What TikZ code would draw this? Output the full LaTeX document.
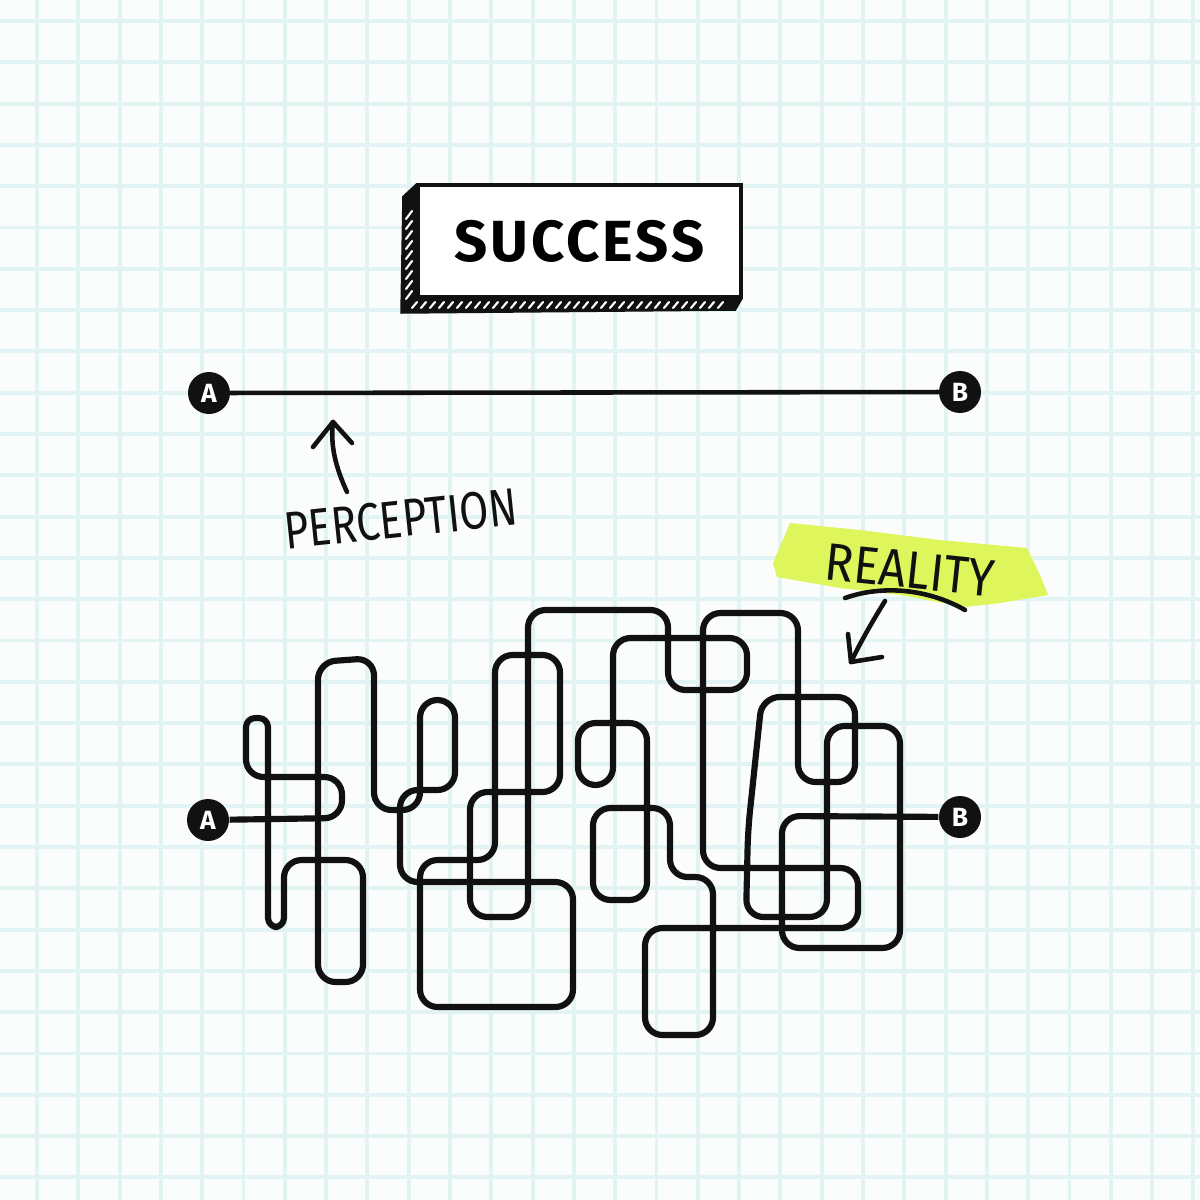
\documentclass[tikz,border=0pt]{standalone}
\usepackage{fontspec}
\newfontfamily\handfont{Fira Sans}
\newfontfamily\titlefont[LetterSpace=5]{Fira Sans}
\usetikzlibrary{calc}
\definecolor{ink}{HTML}{111111}
\definecolor{gridblue}{RGB}{226,243,244}
\definecolor{paper}{RGB}{251,253,253}
\definecolor{marker}{RGB}{222,245,92}
\tikzset{gridline/.style={gridblue,line width=1.1pt},
  endpt/.style={circle,fill=ink,text=white,minimum size=4.2mm,inner sep=0pt,font=\handfont\bfseries\fontsize{7.5}{7.5}\selectfont},
  tangle/.style={ink,line width=1.75pt,rounded corners=5pt,line join=round},
  handtext/.style={ink,inner sep=0pt,font=\handfont\fontsize{15}{15}\selectfont},
  pen/.style={ink,line width=1.3pt,line cap=round,line join=round},
  hatch/.style={white,line width=0.6pt,line cap=round}}

\begin{document}
\begin{tikzpicture}[x=0.1mm,y=-0.1mm]
\fill[paper] (0,0) rectangle (1200,1200);
\useasboundingbox (0,0) rectangle (1200,1200);
% grid paper
\foreach \i in {0,...,28} {
  \draw[gridline] ({37+41.3*\i},0) -- ({37+41.3*\i},1200);
  \draw[gridline] (0,{21+41.3*\i}) -- (1200,{21+41.3*\i});
}

% title box
\node[draw=ink,line width=1pt,fill=white,minimum width=32.3mm,minimum height=11.2mm,
  font=\titlefont\bfseries\fontsize{16.5}{16.5}\selectfont] (success) at (579.5,241) {SUCCESS};
\fill[ink] (success.north west) -- ($(success.north west)+(-14,13)$) -- ($(success.south west)+(-16,15)$)
  -- ($(success.south east)+(-7,12)$) -- (success.south east) -- (success.south west) -- cycle;
\foreach \x in {412,421,...,726} \draw[hatch] (\x,308) -- ++(5,-6);
\foreach \y in {212,222,...,292} \draw[hatch] (406,\y+7) -- ++(6,-8);

% perception
\node[endpt] (atop) at (209,393) {A};
\node[endpt] (btop) at (960,392) {B};
\draw[pen] (atop) -- (btop);
\node[handtext,rotate=6] (perc) at (401,519) {\scalebox{0.8}[1]{PERCEPTION}};
\coordinate (perctail) at (347,492);
\coordinate (perctip) at (333,422);
\draw[pen] (perctail) .. controls (336,468) and (330,446) .. (perctip);
\draw[pen] (313,447) -- (perctip) -- (352,443);

% reality
\fill[marker] (773,563) -- (790,523) -- (860,530) -- (940,540) -- (1027,548) -- (1040,575) -- (1048,595)
  -- (1000,603) -- (965,607) -- (900,595) -- (840,588) -- (777,577) -- cycle;
\node[handtext,rotate=-6] (real) at (910,570) {\scalebox{0.9}[1]{REALITY}};
\draw[pen] (845,598) .. controls (885,584) and (930,590) .. (965,610);
\coordinate (realtail) at (885,601);
\coordinate (realtip) at (851,662);
\draw[pen] (realtail) .. controls (872,622) and (860,643) .. (realtip);
\draw[pen] (848,634) -- (realtip) -- (882,657);

\node[endpt] (abot) at (208,820) {A};
\node[endpt] (bbot) at (960,817) {B};
\draw[tangle] (abot) -- (342,818) -- (342,777) -- (246,777) [rounded corners=2.6pt] -- (246,718) -- (268,718)
  -- (268,927) -- (284,927) [rounded corners=5pt] -- (284,860) -- (363,860) -- (363,982) -- (318,982)
  -- (318,662) -- (374,658)
  -- (374,810) -- (420,810) -- (420,700) -- (455,700) -- (455,790) -- (400,790) -- (400,882)
  -- (573,882) -- (573,1007) -- (420,1007) -- (420,860) -- (495,860) -- (495,655) -- (560,655)
  -- (560,792) -- (470,792) -- (470,917) -- (528,917) -- (528,610) -- (668,610) -- (668,690)
  -- (747,690) -- (747,638) -- (613,638) -- (613,785) -- (578,785) -- (578,723) -- (647,723)
  -- (647,900) -- (593,900) -- (593,808) -- (670,808) -- (670,877) -- (713,877) -- (713,1035)
  -- (645,1035) -- (645,928) -- (858,928) -- (858,868) -- (703,868) -- (703,613) -- (798,613)
  -- (798,782) -- (855,782) -- (855,697) -- (762,697) -- (748,830) -- (746,917) -- (827,917)
  -- (827,726) -- (900,726) -- (900,948) -- (782,948) -- (782,816) -- (bbot);
\end{tikzpicture}
\end{document}
